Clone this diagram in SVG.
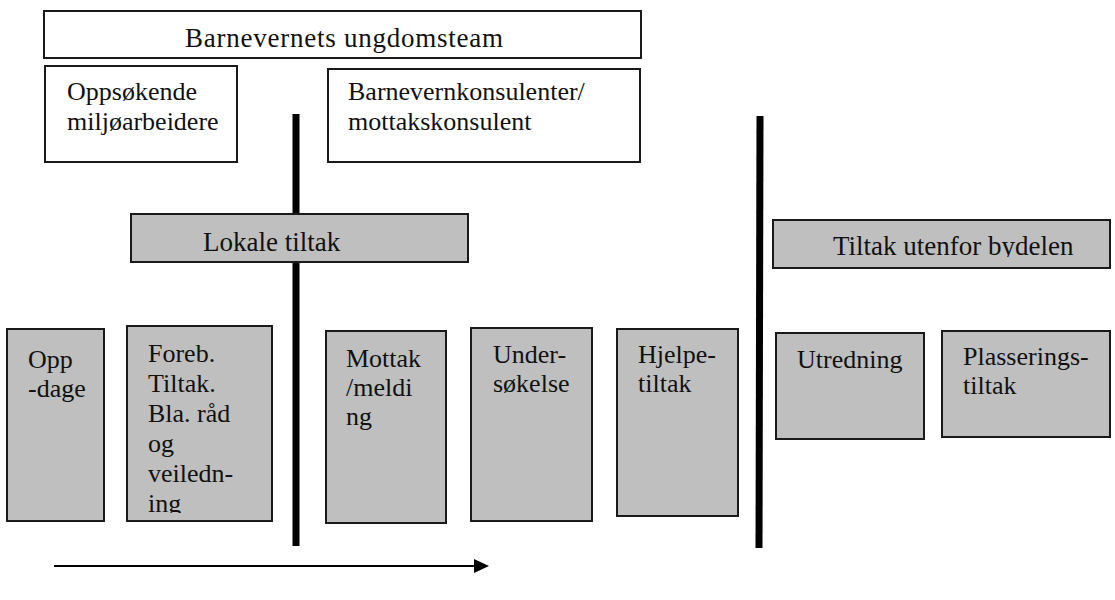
<svg xmlns="http://www.w3.org/2000/svg" width="1115" height="600" viewBox="0 0 1115 600">
<style>
.w{fill:#ffffff;stroke:#1a1a1a;stroke-width:2}
.g{fill:#bfbfbf;stroke:#1a1a1a;stroke-width:2}
.bar{stroke:#000;stroke-width:7;fill:none}
</style>
<defs>
<clipPath id="c1"><rect x="128" y="326" width="144" height="187"/></clipPath>
<clipPath id="c2"><rect x="774" y="220" width="336" height="37"/></clipPath>
</defs>
<rect width="1115" height="600" fill="#fff"/>
<g id="connectors">
<line class="bar" x1="296" y1="114" x2="296" y2="546"/>
<line class="bar" x1="760" y1="116" x2="759" y2="548"/>
<line x1="54" y1="566" x2="476" y2="566" stroke="#000" stroke-width="2"/>
<polygon points="474,559 489,566 474,573" fill="#000"/>
</g>
<g font-family="Liberation Serif, serif" font-size="26" fill="#111">
<g id="n-ungdomsteam">
<rect class="w" x="44" y="11" width="597" height="47"/>
<text x="344" y="47" font-size="27" text-anchor="middle" textLength="318">Barnevernets ungdomsteam</text>
</g>
<g id="n-oppsokende">
<rect class="w" x="45" y="66" width="192" height="96"/>
<text x="67" y="100">Oppsøkende</text>
<text x="67" y="130">miljøarbeidere</text>
</g>
<g id="n-barnevernkonsulenter">
<rect class="w" x="328" y="69" width="312" height="93"/>
<text x="348" y="100">Barnevernkonsulenter/</text>
<text x="348" y="130">mottakskonsulent</text>
</g>
<g id="n-lokale">
<rect class="g" x="131" y="214" width="337" height="48"/>
<text x="203" y="251" font-size="27">Lokale tiltak</text>
</g>
<g id="n-utenfor">
<rect class="g" x="773" y="220" width="337" height="48"/>
<text x="833" y="255" font-size="27" clip-path="url(#c2)">Tiltak utenfor bydelen</text>
</g>
<g id="n-oppdage">
<rect class="g" x="7" y="329" width="97" height="192"/>
<text x="28" y="368">Opp</text>
<text x="28" y="397">-dage</text>
</g>
<g id="n-foreb">
<rect class="g" x="127" y="326" width="145" height="195"/>
<g clip-path="url(#c1)">
<text x="148" y="362">Foreb.</text>
<text x="148" y="392">Tiltak.</text>
<text x="148" y="422">Bla. råd</text>
<text x="148" y="452">og</text>
<text x="148" y="482">veiledn-</text>
<text x="148" y="512">ing</text>
</g>
</g>
<g id="n-mottak">
<rect class="g" x="326" y="331" width="120" height="192"/>
<text x="346" y="367">Mottak</text>
<text x="346" y="396">/meldi</text>
<text x="346" y="425">ng</text>
</g>
<g id="n-undersokelse">
<rect class="g" x="471" y="328" width="121" height="193"/>
<text x="493" y="363">Under-</text>
<text x="493" y="392">søkelse</text>
</g>
<g id="n-hjelpetiltak">
<rect class="g" x="617" y="329" width="121" height="187"/>
<text x="638" y="363">Hjelpe-</text>
<text x="638" y="392">tiltak</text>
</g>
<g id="n-utredning">
<rect class="g" x="776" y="333" width="148" height="106"/>
<text x="797" y="368">Utredning</text>
</g>
<g id="n-plasserings">
<rect class="g" x="942" y="331" width="168" height="106"/>
<text x="963" y="365">Plasserings-</text>
<text x="963" y="394">tiltak</text>
</g>
</g>
</svg>
